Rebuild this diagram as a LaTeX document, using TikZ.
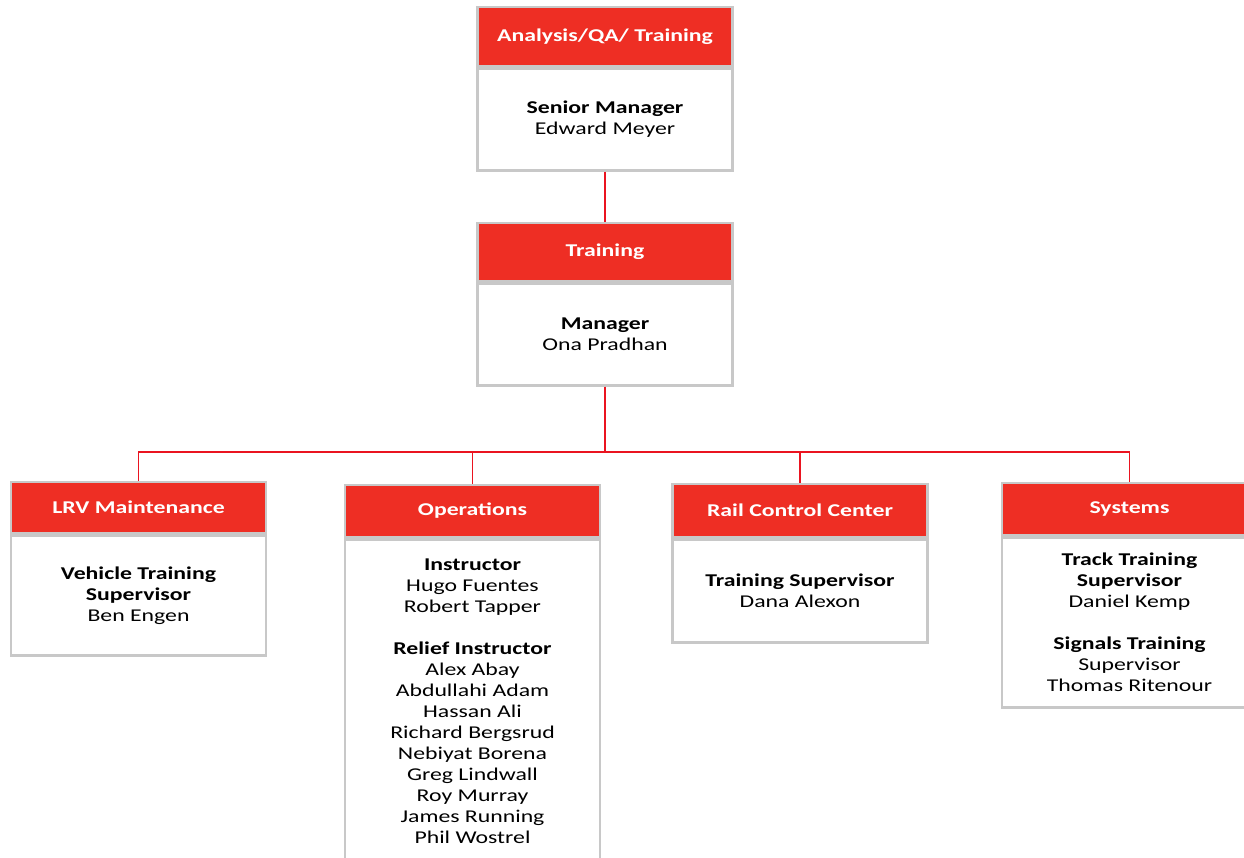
\documentclass[tikz,border=0pt]{standalone}
\usepackage{fontspec}
\setmainfont[FakeStretch=1.32]{Carlito}
\usetikzlibrary{positioning}
\definecolor{hdrred}{HTML}{EE2E24}
\definecolor{boxgray}{HTML}{C8C8C8}
\definecolor{linkred}{HTML}{EA1420}

\begin{document}
\begin{tikzpicture}[x=1pt, y=-1pt, font=\fontsize{18}{21}\selectfont,
    hdr/.style={draw=boxgray, line width=2.5pt, fill=hdrred, text=white,
      font=\fontsize{18}{21}\selectfont\bfseries, minimum width=255pt, minimum height=#1, inner sep=0pt},
    body/.style={draw=boxgray, line width=2.5pt, fill=white, align=center,
      minimum width=255pt, minimum height=#1, inner sep=0pt},
    link/.style={draw=linkred, line width=1.6pt}]
        \useasboundingbox (0,0) rectangle (1244,858);
        \clip (0,0) rectangle (1244,858);
        % Top of the chart
        \node[hdr=59pt] (aqa) at (605,36.5) {Analysis/QA/ Training};
        \node[body=102pt, below=0pt of aqa] (aqab) {\textbf{Senior Manager}\\Edward Meyer};
        \node[hdr=58pt] (trn) at (605,252) {Training};
        \node[body=102pt, below=0pt of trn] (trnb) {\textbf{Manager}\\Ona Pradhan};
        % Sections
        \node[hdr=51pt] (lrv) at (138.5,507.5) {LRV Maintenance};
        \node[body=120pt, below=0pt of lrv] (lrvb) {\textbf{Vehicle Training}\\\textbf{Supervisor}\\Ben Engen};
        \node[hdr=52pt] (ops) at (472.5,511) {Operations};
        \node[body=323pt, below=0pt of ops] (opsb) {\textbf{Instructor}\\Hugo Fuentes\\Robert Tapper\\[21pt]
          \textbf{Relief Instructor}\\Alex Abay\\Abdullahi Adam\\Hassan Ali\\Richard Bergsrud\\
          Nebiyat Borena\\Greg Lindwall\\Roy Murray\\James Running\\Phil Wostrel};
        \node[hdr=53pt] (rcc) at (800,510.5) {Rail Control Center};
        \node[body=103pt, below=0pt of rcc] (rccb) {\textbf{Training Supervisor}\\Dana Alexon};
        \node[hdr=52pt] (sys) at (1129.5,509) {Systems};
        \node[body=170pt, below=0pt of sys] (sysb) {\textbf{Track Training}\\\textbf{Supervisor}\\Daniel Kemp\\[21pt]
          \textbf{Signals Training}\\Supervisor\\Thomas Ritenour};
        % Lines
        \coordinate (bar) at (605,452);
        \draw[link] (aqab.south) -- (trn.north);
        \foreach \d in {lrv,ops,rcc,sys}
          \draw[link] (trnb.south) -- (trnb.south |- bar) -| (\d.north);
\end{tikzpicture}
\end{document}
